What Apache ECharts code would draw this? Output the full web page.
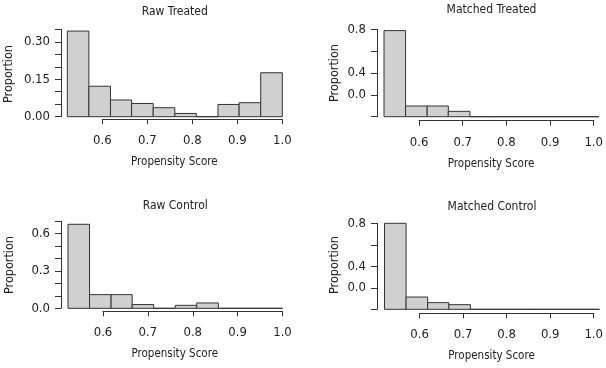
<!DOCTYPE html>
<html>
<head>
<meta charset="utf-8">
<script src="https://cdn.jsdelivr.net/npm/echarts@6/dist/echarts.min.js"></script>
<style>
  html, body { margin: 0; padding: 0; background: #fff; }
  #chart { width: 606px; height: 368px; }
</style>
</head>
<body>
<div id="chart"></div>
<script>
// bin edges of the histograms (propensity score)
var binEdges = [0.522, 0.570, 0.618, 0.665, 0.713, 0.761, 0.809, 0.857, 0.904, 0.952, 1.000];

// proportions per bin
var rawTreated     = [0.343, 0.122, 0.067, 0.053, 0.036, 0.013, 0, 0.049, 0.056, 0.176];
var matchedTreated = [0.788, 0.098, 0.098, 0.049, 0, 0, 0, 0, 0, 0];
var rawControl     = [0.676, 0.110, 0.110, 0.030, 0, 0.024, 0.043, 0, 0, 0];
var matchedControl = [0.800, 0.114, 0.062, 0.043, 0, 0, 0, 0, 0, 0];

// tick labels
var xTickLabels = ['0.6', '0.7', '0.8', '0.9', '1.0'];
var yLabelsRawTreated = ['0.00', '', '', '0.15', '', '', '0.30', ''];
var yLabelsRawControl = ['0.0', '', '', '0.3', '', '', '0.6', ''];
var yLabelsMatched    = ['', '0.0', '0.4', '', '0.8'];

var FONT = '"Liberation Sans Narrow", "DejaVu Sans Condensed", "Arial Narrow", sans-serif';
var INK = '#222';

// layout of the four panels (pixels)
var panels = [
  { title: 'Raw Treated', values: rawTreated, yMax: 0.35, yStep: 0.05, yLabels: yLabelsRawTreated,
    left: 67.3, right: 282.3, top: 29.3, bottom: 116.7, yOff: 6.3, xOff: 2.5, titleY: 11.5, nameX: 9, nameY: 74 },
  { title: 'Matched Treated', values: matchedTreated, yMax: 0.8, yStep: 0.2, yLabels: yLabelsMatched,
    left: 384, right: 599, top: 29.3, bottom: 116.7, yOff: 7, xOff: 4, titleY: 10, nameX: 335, nameY: 73 },
  { title: 'Raw Control', values: rawControl, yMax: 0.7, yStep: 0.1, yLabels: yLabelsRawControl,
    left: 68, right: 282.5, top: 221.3, bottom: 308.3, yOff: 7, xOff: 3, titleY: 205.5, nameX: 10, nameY: 265 },
  { title: 'Matched Control', values: matchedControl, yMax: 0.8, yStep: 0.2, yLabels: yLabelsMatched,
    left: 384.5, right: 599.5, top: 223.3, bottom: 309.3, yOff: 7.5, xOff: 4, titleY: 207, nameX: 335, nameY: 265 }
];

var chart = echarts.init(document.getElementById('chart'), null, { renderer: 'canvas' });

var xMin = binEdges[0], xMax = binEdges[binEdges.length - 1];
var grids = [], xAxes = [], yAxes = [], series = [], graphics = [];

function renderBin(params, api) {
  var a = api.coord([api.value(0), api.value(2)]);
  var b = api.coord([api.value(1), 0]);
  return {
    type: 'rect',
    shape: { x: a[0], y: a[1], width: b[0] - a[0], height: b[1] - a[1] },
    style: { fill: '#d0d0d0', stroke: '#333', lineWidth: 1 }
  };
}

panels.forEach(function(p, k) {
  var w = p.right - p.left;
  var px06 = p.left + (0.6 - xMin) / (xMax - xMin) * w;

  // grid for the bars
  grids.push({ left: p.left, top: p.top, width: w, height: p.bottom - p.top, containLabel: false });
  xAxes.push({ gridIndex: 2 * k, type: 'value', min: xMin, max: xMax, show: false });
  var labels = p.yLabels, step = p.yStep;
  yAxes.push({
    gridIndex: 2 * k, type: 'value', min: 0, max: p.yMax, interval: p.yStep,
    offset: p.yOff,
    axisLine: { show: true, lineStyle: { color: '#333', width: 1 } },
    axisTick: { show: true, inside: false, length: 6, lineStyle: { color: '#333' } },
    axisLabel: {
      show: true, margin: 11, fontFamily: FONT, fontSize: 13, color: INK,
      showMinLabel: true, showMaxLabel: true,
      formatter: function(v) { return labels[Math.round(v / step)] || ''; }
    },
    splitLine: { show: false }
  });

  // grid only for the detached x axis (0.6 .. 1.0)
  var axisY = p.bottom + p.xOff;
  grids.push({ left: px06, top: axisY - 10, width: p.right - px06, height: 10, containLabel: false });
  xAxes.push({
    gridIndex: 2 * k + 1, type: 'value', min: 0.6, max: 1.0, interval: 0.1, position: 'bottom',
    axisLine: { show: true, onZero: false, lineStyle: { color: '#333', width: 1 } },
    axisTick: { show: true, inside: false, length: 5, lineStyle: { color: '#333' } },
    axisLabel: {
      show: true, margin: 15, fontFamily: FONT, fontSize: 13, color: INK,
      showMinLabel: true, showMaxLabel: true,
      formatter: function(v) { return xTickLabels[Math.round((v - 0.6) / 0.1)]; }
    },
    splitLine: { show: false }
  });
  yAxes.push({ gridIndex: 2 * k + 1, type: 'value', show: false, min: 0, max: 1 });

  var data = p.values.map(function(v, i) { return [binEdges[i], binEdges[i + 1], v]; });
  series.push({
    type: 'custom', xAxisIndex: 2 * k, yAxisIndex: 2 * k,
    renderItem: renderBin, data: data, clip: false, silent: true,
    encode: { x: [0, 1], y: 2 }
  });

  // titles and axis names
  graphics.push({
    type: 'text', x: (p.left + p.right) / 2, y: p.titleY,
    style: { text: p.title, font: '12px ' + FONT, fill: INK,
      align: 'center', verticalAlign: 'middle', textAlign: 'center', textVerticalAlign: 'middle' }
  });
  graphics.push({
    type: 'text', x: (px06 + p.right) / 2 - 18, y: axisY + 43,
    style: { text: 'Propensity Score', font: '11.5px ' + FONT, fill: INK,
      align: 'center', verticalAlign: 'middle', textAlign: 'center', textVerticalAlign: 'middle' }
  });
  graphics.push({
    type: 'text', x: p.nameX, y: p.nameY, rotation: Math.PI / 2,
    style: { text: 'Proportion', font: '12.5px ' + FONT, fill: INK,
      align: 'center', verticalAlign: 'middle', textAlign: 'center', textVerticalAlign: 'middle' }
  });
});

chart.setOption({
  animation: false,
  backgroundColor: '#fff',
  grid: grids,
  xAxis: xAxes,
  yAxis: yAxes,
  series: series,
  graphic: graphics
});
</script>
</body>
</html>
